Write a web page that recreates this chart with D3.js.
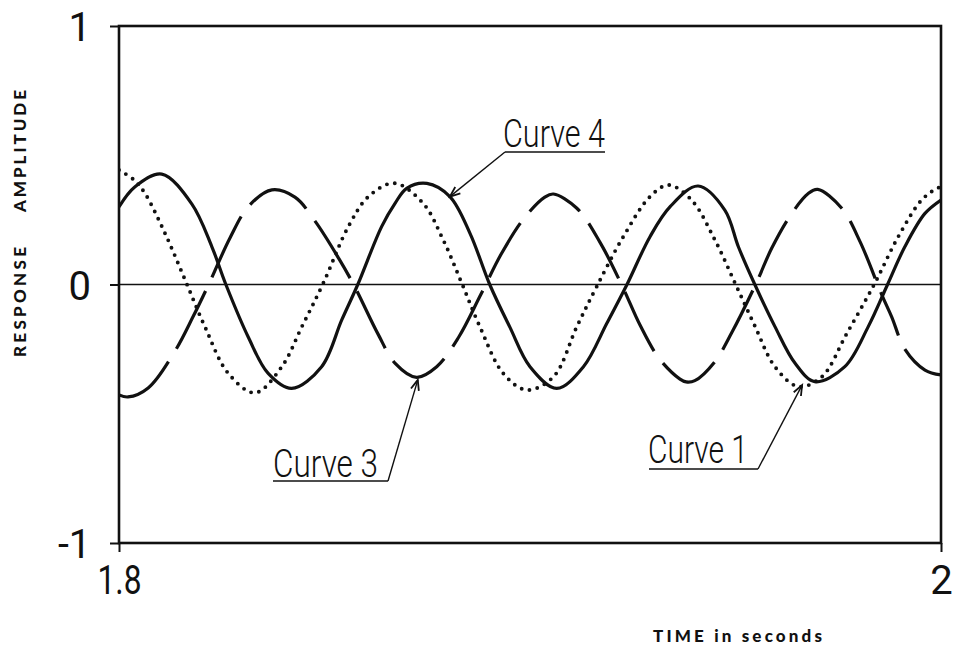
<!DOCTYPE html>
<html>
<head>
<meta charset="utf-8">
<script src="https://cdn.jsdelivr.net/npm/d3@7"></script>
<style>
  html, body { margin: 0; padding: 0; background: #fff; }
  svg { display: block; }
</style>
</head>
<body>
<svg id="chart" width="954" height="650"></svg>
<script>
// Response samples, [time (s), amplitude]
const curve1 = [
  [1.8000, 0.443], [1.8037, 0.404], [1.8063, 0.353], [1.8112, 0.198], [1.8161, 0.017],
  [1.8209, -0.163], [1.8266, -0.344], [1.8331, -0.419], [1.8396, -0.318], [1.8445, -0.163],
  [1.8497, 0.005], [1.8558, 0.224], [1.8607, 0.340], [1.8670, 0.392], [1.8740, 0.314],
  [1.8789, 0.172], [1.8834, 0.005], [1.8878, -0.163], [1.8935, -0.344], [1.8992, -0.408],
  [1.9057, -0.357], [1.9114, -0.163], [1.9162, -0.009], [1.9227, 0.185], [1.9292, 0.340],
  [1.9337, 0.385], [1.9393, 0.327], [1.9450, 0.172], [1.9499, 0.005], [1.9547, -0.160],
  [1.9596, -0.318], [1.9653, -0.395], [1.9710, -0.357], [1.9771, -0.189], [1.9839, 0.005],
  [1.9896, 0.185], [1.9953, 0.327], [1.9990, 0.372], [2.0000, 0.377]
];

const curve3 = [
  [1.8000, -0.427], [1.8022, -0.435], [1.8071, -0.400], [1.8136, -0.258], [1.8180, -0.125],
  [1.8221, 0.010], [1.8270, 0.180], [1.8315, 0.302], [1.8372, 0.366], [1.8428, 0.338],
  [1.8477, 0.245], [1.8535, 0.100], [1.8574, -0.010], [1.8630, -0.191], [1.8672, -0.305],
  [1.8724, -0.359], [1.8773, -0.318], [1.8826, -0.205], [1.8880, -0.040], [1.8930, 0.118],
  [1.8985, 0.255], [1.9036, 0.338], [1.9057, 0.350], [1.9114, 0.295], [1.9170, 0.164],
  [1.9225, -0.008], [1.9268, -0.158], [1.9315, -0.288], [1.9365, -0.366], [1.9380, -0.377],
  [1.9401, -0.372], [1.9450, -0.298], [1.9491, -0.186], [1.9549, 0.000], [1.9588, 0.140],
  [1.9634, 0.268], [1.9677, 0.352], [1.9700, 0.368], [1.9758, 0.296], [1.9803, 0.166],
  [1.9856, -0.040], [1.9880, -0.125], [1.9912, -0.250], [1.9961, -0.331], [2.0000, -0.350]
];

const curve4 = [
  [1.8000, 0.300], [1.8039, 0.378], [1.8104, 0.427], [1.8177, 0.312], [1.8226, 0.146],
  [1.8260, 0.000], [1.8315, -0.205], [1.8363, -0.344], [1.8420, -0.402], [1.8493, -0.318],
  [1.8542, -0.137], [1.8581, 0.000], [1.8639, 0.224], [1.8672, 0.315], [1.8700, 0.372],
  [1.8749, 0.391], [1.8805, 0.340], [1.8854, 0.198], [1.8902, 0.000], [1.8951, -0.165],
  [1.9000, -0.318], [1.9065, -0.402], [1.9130, -0.318], [1.9187, -0.150], [1.9236, 0.000],
  [1.9292, 0.185], [1.9341, 0.301], [1.9409, 0.381], [1.9474, 0.288], [1.9507, 0.146],
  [1.9547, 0.000], [1.9596, -0.163], [1.9645, -0.305], [1.9693, -0.376], [1.9766, -0.318],
  [1.9823, -0.163], [1.9870, 0.000], [1.9912, 0.146], [1.9961, 0.275], [2.0000, 0.327]
];

const xTicks = [1.8, 2];
const yTicks = [-1, 0, 1];
const xTitle = "TIME in seconds";
const yTitleParts = ["RESPONSE", "AMPLITUDE"];

// Callouts: label and the point on the curve the arrow touches
const callouts = [
  { label: "Curve 4", tip: [1.8805, 0.340] },
  { label: "Curve 3", tip: [1.8727, -0.369] },
  { label: "Curve 1", tip: [1.9662, -0.389] }
];

const svg = d3.select("#chart");
const ink = "#111";
const labelFont = "Roboto, 'Open Sans', 'Noto Sans', sans-serif";
const titleFont = "Lato, 'DejaVu Sans', sans-serif";

const x = d3.scaleLinear().domain([1.8, 2]).range([119, 941]);
const y = d3.scaleLinear().domain([-1, 1]).range([543, 26]);

// clip for the curves
svg.append("defs").append("clipPath").attr("id", "plot-clip")
  .append("rect")
  .attr("x", x.range()[0]).attr("y", y.range()[1])
  .attr("width", x.range()[1] - x.range()[0])
  .attr("height", y.range()[0] - y.range()[1]);

// zero reference line
svg.append("line")
  .attr("x1", x.range()[0]).attr("x2", x.range()[1])
  .attr("y1", y(0)).attr("y2", y(0))
  .attr("stroke", ink).attr("stroke-width", 1.4);

const line = d3.line()
  .x(d => x(d[0]))
  .y(d => y(d[1]))
  .curve(d3.curveCatmullRom.alpha(0.5));

const curves = svg.append("g").attr("clip-path", "url(#plot-clip)");

curves.append("path").datum(curve1)
  .attr("d", line).attr("fill", "none")
  .attr("stroke", ink).attr("stroke-width", 3.9)
  .attr("stroke-linecap", "round")
  .attr("stroke-dasharray", "0 8");

const dashedPath = curves.append("path").datum(curve3)
  .attr("d", line).attr("fill", "none")
  .attr("stroke", ink).attr("stroke-width", 3.2)
  .attr("stroke-linecap", "butt");

curves.append("path").datum(curve4)
  .attr("d", line).attr("fill", "none")
  .attr("stroke", ink).attr("stroke-width", 3.2)
  .attr("stroke-linejoin", "round");

// Long-dash pattern laid out per half-cycle so the breaks fall on the zero line
(function layoutDashes(path, nominalDash, gap) {
  const node = path.node();
  const total = node.getTotalLength();
  const y0 = y(0);
  const cross = [];
  let prev = node.getPointAtLength(0);
  for (let s = 0.5; s <= total; s += 0.5) {
    const p = node.getPointAtLength(s);
    if ((prev.y - y0) * (p.y - y0) < 0) cross.push(s);
    prev = p;
  }
  const bounds = [0, ...cross, total];
  const segs = [];
  const pushSeg = (kind, len) => {
    if (segs.length && segs[segs.length - 1].kind === kind) segs[segs.length - 1].len += len;
    else segs.push({ kind, len });
  };
  for (let i = 0; i < bounds.length - 1; i++) {
    const a = bounds[i], b = bounds[i + 1], span = b - a;
    const lead = i > 0 ? gap / 2 : 0;
    const tail = i < bounds.length - 2 ? gap / 2 : 0;
    const n = Math.max(1, Math.round((span - lead - tail + gap) / (nominalDash + gap)));
    const d = (span - lead - tail - (n - 1) * gap) / n;
    if (lead) pushSeg("gap", lead);
    for (let k = 0; k < n; k++) {
      pushSeg("dash", d);
      if (k < n - 1) pushSeg("gap", gap);
    }
    if (tail) pushSeg("gap", tail);
  }
  const arr = [];
  if (segs[0].kind === "gap") arr.push(0);
  segs.forEach(s => arr.push(s.len.toFixed(2)));
  path.attr("stroke-dasharray", arr.join(" "));
})(dashedPath, 64, 15);

// frame
svg.append("rect")
  .attr("x", x.range()[0]).attr("y", y.range()[1])
  .attr("width", x.range()[1] - x.range()[0])
  .attr("height", y.range()[0] - y.range()[1])
  .attr("fill", "none").attr("stroke", ink).attr("stroke-width", 2.6);

// multi-character tick labels are drawn narrow
const tickWidth = { "-1": 33, "1.8": 44 };
const styleTickText = sel => sel
  .attr("fill", ink)
  .attr("font-family", labelFont)
  .attr("font-weight", 400)
  .attr("font-size", 40)
  .each(function(d) {
    const w = tickWidth[String(d)];
    if (w) d3.select(this).attr("textLength", w).attr("lengthAdjust", "spacingAndGlyphs");
  });

const yAxis = d3.axisLeft(y).tickValues(yTicks).tickSize(9).tickPadding(19)
  .tickFormat(d => String(d));
svg.append("g")
  .attr("transform", `translate(${x.range()[0]},0)`)
  .call(yAxis)
  .call(g => g.select(".domain").remove())
  .call(g => g.selectAll(".tick line").attr("stroke", ink).attr("stroke-width", 2))
  .call(g => g.selectAll(".tick text").call(styleTickText).attr("dy", "0.37em"));

const xAxis = d3.axisBottom(x).tickValues(xTicks).tickSize(9)
  .tickFormat(d => String(d));
svg.append("g")
  .attr("transform", `translate(0,${y.range()[0]})`)
  .call(xAxis)
  .call(g => g.select(".domain").remove())
  .call(g => g.selectAll(".tick line").attr("stroke", ink).attr("stroke-width", 2))
  .call(g => g.selectAll(".tick text").call(styleTickText).attr("y", 51).attr("dy", 0));

// axis titles
svg.append("text")
  .attr("x", 653).attr("y", 642)
  .attr("font-family", titleFont).attr("font-weight", 900)
  .attr("font-size", 17).attr("fill", ink)
  .attr("textLength", 169).attr("lengthAdjust", "spacing")
  .text(xTitle);

const yTitleLayout = [
  { cy: 302, len: 110 },
  { cy: 151, len: 122 }
];
yTitleParts.forEach((t, i) => {
  svg.append("text")
    .attr("transform", `translate(26,${yTitleLayout[i].cy}) rotate(-90)`)
    .attr("text-anchor", "middle")
    .attr("font-family", titleFont).attr("font-weight", 900)
    .attr("font-size", 17).attr("fill", ink)
    .attr("textLength", yTitleLayout[i].len).attr("lengthAdjust", "spacing")
    .text(t);
});

// callout placement: label box and the end of its underline
const calloutLayout = {
  "Curve 4": { tx: 503, ty: 147, tw: 102, ux0: 505, ux1: 605, uy: 152, lead: [505, 152] },
  "Curve 3": { tx: 273, ty: 477, tw: 105, ux0: 273, ux1: 388, uy: 481, lead: [388, 481] },
  "Curve 1": { tx: 648, ty: 463, tw: 100, ux0: 649, ux1: 758, uy: 469, lead: [758, 469] }
};

callouts.forEach(c => {
  const L = calloutLayout[c.label];
  const g = svg.append("g");
  g.append("text")
    .attr("x", L.tx).attr("y", L.ty)
    .attr("font-family", labelFont).attr("font-weight", 300)
    .attr("font-size", 38).attr("fill", ink)
    .attr("textLength", L.tw).attr("lengthAdjust", "spacingAndGlyphs")
    .text(c.label);
  g.append("line")
    .attr("x1", L.ux0).attr("x2", L.ux1).attr("y1", L.uy).attr("y2", L.uy)
    .attr("stroke", ink).attr("stroke-width", 1.6);
  const tx = x(c.tip[0]), ty = y(c.tip[1]);
  g.append("line")
    .attr("x1", L.lead[0]).attr("y1", L.lead[1]).attr("x2", tx).attr("y2", ty)
    .attr("stroke", ink).attr("stroke-width", 1.4);
  // open arrowhead
  const ang = Math.atan2(L.lead[1] - ty, L.lead[0] - tx);
  const len = 11, spread = 0.38;
  const p1 = [tx + len * Math.cos(ang + spread), ty + len * Math.sin(ang + spread)];
  const p2 = [tx + len * Math.cos(ang - spread), ty + len * Math.sin(ang - spread)];
  g.append("path")
    .attr("d", `M${p1[0]},${p1[1]}L${tx},${ty}L${p2[0]},${p2[1]}`)
    .attr("fill", "none").attr("stroke", ink).attr("stroke-width", 1.8)
    .attr("stroke-linejoin", "miter");
});
</script>
</body>
</html>
